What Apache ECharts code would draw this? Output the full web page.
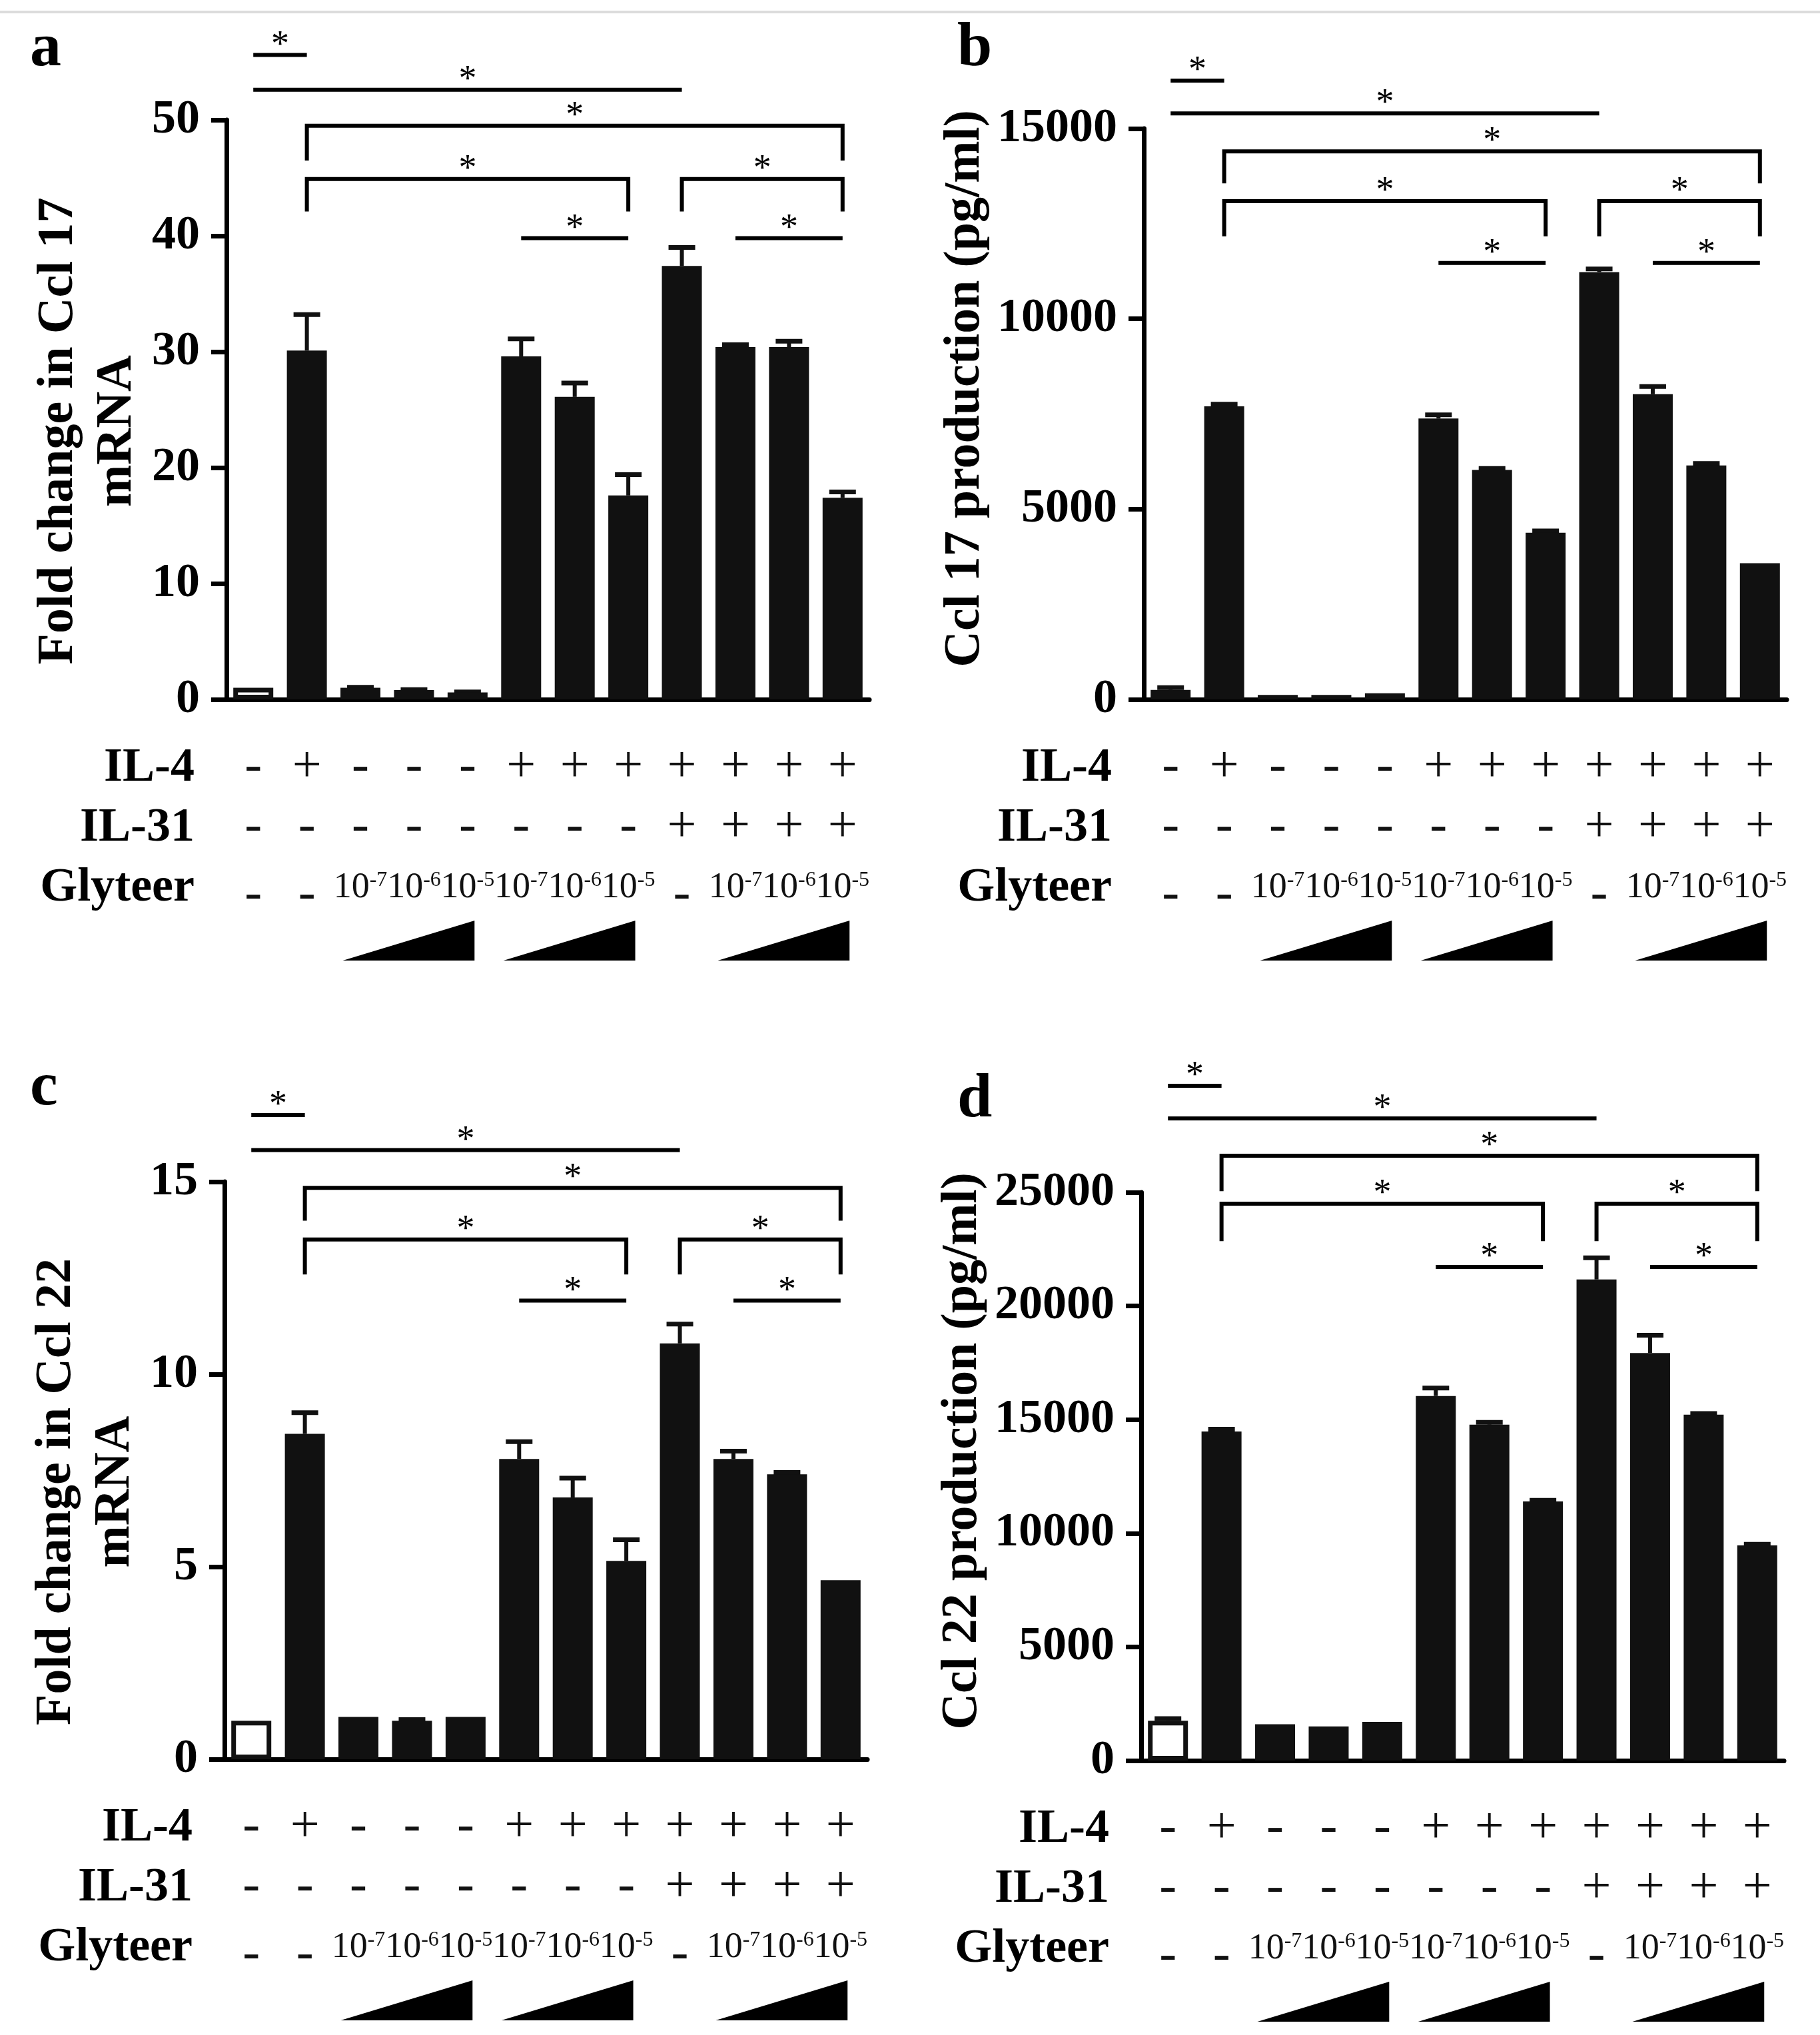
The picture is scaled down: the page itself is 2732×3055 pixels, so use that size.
<!DOCTYPE html>
<html>
<head>
<meta charset="utf-8">
<script src="https://cdn.jsdelivr.net/npm/echarts@6/dist/echarts.min.js"></script>
<style>
  html, body { margin: 0; padding: 0; background: #fff; }
  #chart { width: 2732px; height: 3055px; }
</style>
</head>
<body>
<div id="chart"></div>
<script>
// conditions (12 groups) and the treatment table under each panel
const conditions = ['Ctrl', 'IL-4', 'G-7', 'G-6', 'G-5', 'IL-4 G-7', 'IL-4 G-6', 'IL-4 G-5',
  'IL-4+IL-31', 'IL-4+IL-31 G-7', 'IL-4+IL-31 G-6', 'IL-4+IL-31 G-5'];
const il4Row = ['-', '+', '-', '-', '-', '+', '+', '+', '+', '+', '+', '+'];
const il31Row = ['-', '-', '-', '-', '-', '-', '-', '-', '+', '+', '+', '+'];
const glyteerRow = ['-', '-', '10^-7', '10^-6', '10^-5', '10^-7', '10^-6', '10^-5', '-', '10^-7', '10^-6', '10^-5'];
const doseRamps = [[2, 4], [5, 7], [9, 11]];

// a: Ccl17 mRNA fold change
const ccl17mRNA = [1.0, 30.1, 1.0, 0.8, 0.6, 29.6, 26.1, 17.6, 37.4, 30.4, 30.4, 17.4];
const ccl17mRNAErr = [0, 3.1, 0.05, 0.05, 0.05, 1.5, 1.2, 1.8, 1.6, 0.2, 0.5, 0.5];
const ticksA = [0, 10, 20, 30, 40, 50];
// [from, to, level, drop level or null]
const sigA = [[0, 1, 55.6, null], [0, 8, 52.6, null], [1, 11, 49.5, 46.5], [1, 7, 44.9, 42.1],
  [8, 11, 44.9, 42.1], [5, 7, 39.8, null], [9, 11, 39.8, null]];

// b: Ccl17 production
const ccl17Protein = [250, 7700, 120, 120, 160, 7380, 6030, 4380, 11230, 8020, 6150, 3580];
const ccl17ProteinErr = [60, 60, 0, 0, 0, 100, 40, 50, 80, 200, 50, 0];
const ticksB = [0, 5000, 10000, 15000];
const sigB = [[0, 1, 16260, null], [0, 8, 15400, null], [1, 11, 14400, 13560], [1, 7, 13090, 12170],
  [8, 11, 13090, 12170], [5, 7, 11470, null], [9, 11, 11470, null]];

// c: Ccl22 mRNA fold change
const ccl22mRNA = [1.0, 8.45, 1.1, 1.0, 1.1, 7.8, 6.8, 5.15, 10.8, 7.8, 7.4, 4.65];
const ccl22mRNAErr = [0, 0.55, 0, 0.03, 0, 0.45, 0.5, 0.55, 0.5, 0.2, 0.05, 0];
const ticksC = [0, 5, 10, 15];
const sigC = [[0, 1, 16.73, null], [0, 8, 15.82, null], [1, 11, 14.84, 13.99], [1, 7, 13.5, 12.59],
  [8, 11, 13.5, 12.59], [5, 7, 11.91, null], [9, 11, 11.91, null]];

// d: Ccl22 production
const ccl22Protein = [1750, 14480, 1600, 1500, 1700, 16040, 14780, 11400, 21170, 17930, 15220, 9470];
const ccl22ProteinErr = [100, 100, 0, 0, 0, 350, 100, 50, 950, 780, 50, 50];
const ticksD = [0, 5000, 10000, 15000, 20000, 25000];
const sigD = [[0, 1, 29690, null], [0, 8, 28250, null], [1, 11, 26610, 25050], [1, 7, 24500, 22850],
  [8, 11, 24500, 22850], [5, 7, 21720, null], [9, 11, 21720, null]];

const FONT = '"Liberation Serif", "Times New Roman", serif';

const panels = [
  { letter: 'a', values: ccl17mRNA, errs: ccl17mRNAErr, ticks: ticksA, sig: sigA, openFirst: true,
    title: 'Fold change in Ccl 17\nmRNA', grid: { left: 340, top: 180, width: 965, height: 870 },
    letterPos: { left: 40, top: 22 }, nameGap: 120, namePad: [0, 64, 0, 0] },
  { letter: 'b', values: ccl17Protein, errs: ccl17ProteinErr, ticks: ticksB, sig: sigB, openFirst: false,
    title: 'Ccl 17 production (pg/ml)', grid: { left: 1717, top: 193, width: 965, height: 857 },
    letterPos: { left: 1432, top: 22 }, nameGap: 126, namePad: [0, 0, 0, 76] },
  { letter: 'c', values: ccl22mRNA, errs: ccl22mRNAErr, ticks: ticksC, sig: sigC, openFirst: true,
    title: 'Fold change in Ccl 22\nmRNA', grid: { left: 337, top: 1774, width: 965, height: 867 },
    letterPos: { left: 40, top: 1582 }, nameGap: 120, namePad: [0, 64, 0, 0] },
  { letter: 'd', values: ccl22Protein, errs: ccl22ProteinErr, ticks: ticksD, sig: sigD, openFirst: true,
    title: 'Ccl 22 production (pg/ml)', grid: { left: 1713, top: 1790, width: 965, height: 853 },
    letterPos: { left: 1432, top: 1600 }, nameGap: 126, namePad: [0, 0, 0, 76] }
];

const rows = [
  { name: 'IL-4', data: il4Row, offset: 103 },
  { name: 'IL-31', data: il31Row, offset: 193 },
  { name: 'Glyteer', data: glyteerRow, offset: 283 }
];

function glyteerLabel(v) {
  if (v.indexOf('^') < 0) return '{d|' + v + '}';
  const parts = v.split('^');
  return '{b|' + parts[0] + '}{s|' + parts[1] + '}';
}

const option = {
  backgroundColor: '#fff',
  animation: false,
  title: [],
  grid: [],
  xAxis: [],
  yAxis: [],
  series: [],
  graphic: [{ type: 'rect', shape: { x: 0, y: 16, width: 2732, height: 4 }, style: { fill: '#dcdcdc' } }]
};

panels.forEach(function (p, gi) {
  option.title.push({
    text: p.letter, left: p.letterPos.left, top: p.letterPos.top,
    textStyle: { fontFamily: FONT, fontWeight: 'bold', fontSize: 94, color: '#000' }
  });
  option.grid.push(Object.assign({ containLabel: false }, p.grid));

  const mainX = option.xAxis.length;
  option.xAxis.push({
    type: 'category', gridIndex: gi, data: conditions,
    axisLine: { lineStyle: { color: '#000', width: 7 } },
    axisTick: { alignWithLabel: true, length: 27, lineStyle: { color: '#000', width: 6 } },
    axisLabel: { show: false }
  });
  rows.forEach(function (r) {
    const isGly = r.name === 'Glyteer';
    option.xAxis.push({
      type: 'category', gridIndex: gi, data: r.data, position: 'bottom', offset: r.offset,
      axisLine: { show: false }, axisTick: { show: false },
      axisLabel: {
        interval: 0, margin: 0, verticalAlign: 'middle', color: '#111',
        fontFamily: FONT, fontSize: 78,
        formatter: isGly ? glyteerLabel : null,
        rich: isGly ? {
          b: { fontFamily: FONT, fontSize: 54, lineHeight: 54, color: '#111' },
          s: { fontFamily: FONT, fontSize: 32, lineHeight: 30, verticalAlign: 'top', color: '#111' },
          d: { fontFamily: FONT, fontSize: 78, lineHeight: 54, padding: [24, 0, 0, 0], color: '#111' }
        } : undefined
      },
      name: r.name, nameLocation: 'start', nameGap: 48,
      nameTextStyle: { fontFamily: FONT, fontWeight: 'bold', fontSize: 72, color: '#000', verticalAlign: 'middle' }
    });
  });

  const t = p.ticks;
  option.yAxis.push({
    type: 'value', gridIndex: gi, min: t[0], max: t[t.length - 1], interval: t[1] - t[0],
    axisLine: { show: true, lineStyle: { color: '#000', width: 7 } },
    axisTick: { show: true, length: 23, lineStyle: { color: '#000', width: 7 } },
    axisLabel: { margin: 40, fontFamily: FONT, fontWeight: 'bold', fontSize: 72, color: '#000',
      formatter: function (v) { return String(v); } },
    splitLine: { show: false },
    name: p.title, nameLocation: 'middle', nameRotate: 90, nameGap: p.nameGap,
    nameTextStyle: { fontFamily: FONT, fontWeight: 'bold', fontSize: 76, lineHeight: 88, color: '#000', padding: p.namePad }
  });

  // bars
  option.series.push({
    type: 'bar', xAxisIndex: mainX, yAxisIndex: gi, barWidth: 60, z: 3,
    itemStyle: { color: '#111' },
    data: p.values.map(function (v, i) {
      if (i === 0 && p.openFirst) {
        return { value: v, itemStyle: { color: '#fff', borderColor: '#111', borderWidth: 7 } };
      }
      return v;
    })
  });

  // error bars (upper only)
  option.series.push({
    type: 'custom', xAxisIndex: mainX, yAxisIndex: gi, z: 2, clip: false,
    data: p.values.map(function (v, i) { return [i, v, p.errs[i]]; }),
    renderItem: function (params, api) {
      const e = api.value(2);
      if (!(e > 0)) return null;
      const b = api.coord([api.value(0), api.value(1)]);
      const top = api.coord([api.value(0), api.value(1) + e]);
      return {
        type: 'group', children: [
          { type: 'line', shape: { x1: b[0], y1: b[1], x2: top[0], y2: top[1] }, style: { stroke: '#111', lineWidth: 6 } },
          { type: 'line', shape: { x1: top[0] - 20, y1: top[1], x2: top[0] + 20, y2: top[1] }, style: { stroke: '#111', lineWidth: 7 } }
        ]
      };
    }
  });

  // significance brackets with stars
  option.series.push({
    type: 'custom', xAxisIndex: mainX, yAxisIndex: gi, z: 4, clip: false,
    data: p.sig.map(function (s) { return [s[0], s[1], s[2]]; }),
    renderItem: function (params, api) {
      const s = p.sig[params.dataIndex];
      const p1 = api.coord([s[0], s[2]]);
      const p2 = api.coord([s[1], s[2]]);
      let pts = [p1, p2];
      if (s[3] != null) {
        const yd = api.coord([s[0], s[3]])[1];
        pts = [[p1[0], yd], p1, p2, [p2[0], yd]];
      }
      return {
        type: 'group', children: [
          { type: 'polyline', shape: { points: pts }, style: { stroke: '#000', lineWidth: 6, fill: null } },
          { type: 'text', style: { text: '*', x: (p1[0] + p2[0]) / 2, y: p1[1] - 14, align: 'center', verticalAlign: 'middle',
            fontFamily: FONT, fontSize: 54, fill: '#000' } }
        ]
      };
    }
  });

  // dose ramps under the Glyteer row
  option.series.push({
    type: 'custom', xAxisIndex: mainX, yAxisIndex: gi, z: 4, clip: false,
    data: doseRamps,
    renderItem: function (params, api) {
      const a = api.coord([api.value(0), 0]);
      const b = api.coord([api.value(1), 0]);
      const bw = api.size([1, 0])[0];
      const xl = a[0] - 0.33 * bw, xr = b[0] + 0.13 * bw;
      const y0 = a[1];
      return {
        type: 'polygon',
        shape: { points: [[xl, y0 + 392], [xr, y0 + 392], [xr, y0 + 332]] },
        style: { fill: '#000' }
      };
    }
  });
});

const chart = echarts.init(document.getElementById('chart'), null, { renderer: 'canvas' });
chart.setOption(option);
</script>
</body>
</html>
